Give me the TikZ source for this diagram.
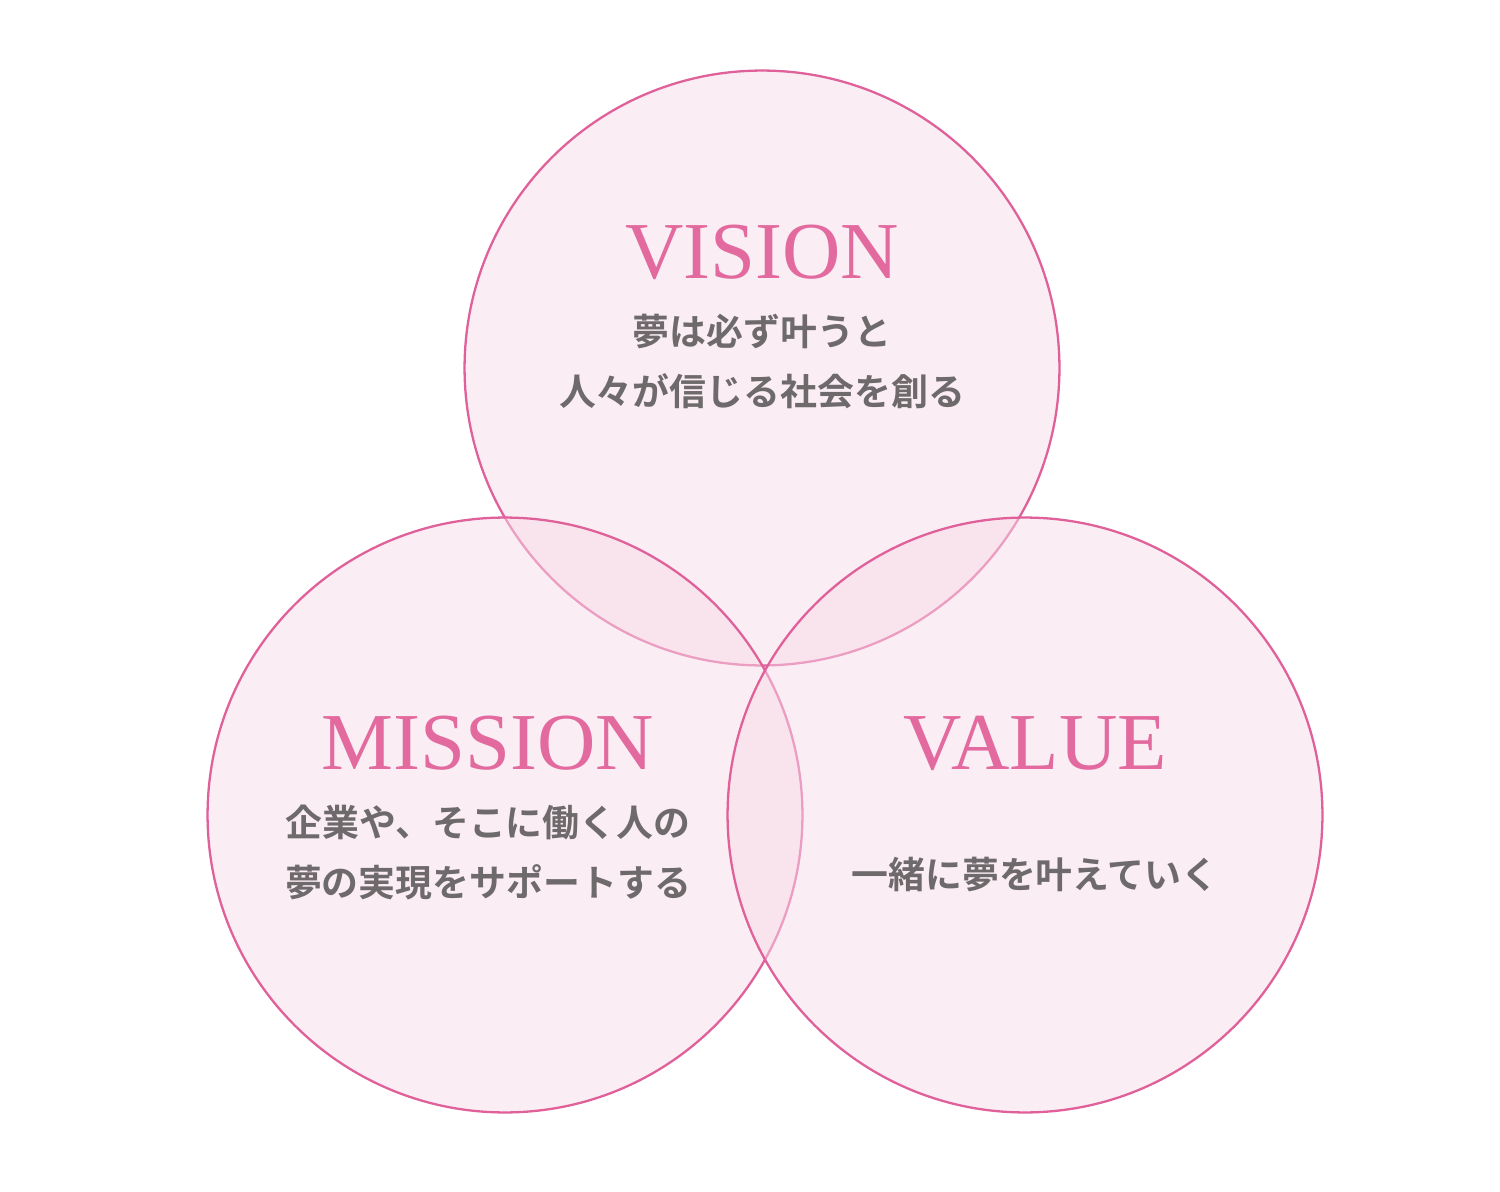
\documentclass[tikz,border=0pt]{standalone}
\usepackage{fontspec}
\setmainfont{Liberation Serif}
\newfontfamily\jpfont{Noto Sans CJK JP}[BoldFont={* Bold}]
\usepackage{tikz}
\usetikzlibrary{positioning}
\definecolor{ringline}{HTML}{E0609A}
\definecolor{ringfill}{HTML}{F8DDEA}
\definecolor{titlepink}{HTML}{E26A9E}
\definecolor{textgray}{HTML}{6E6A6C}
\tikzstyle{ring}  = [draw=ringline, line width=1.3pt, fill=ringfill, fill opacity=0.5]
\tikzstyle{title} = [text=titlepink, font=\fontsize{46}{50}\selectfont]
\tikzstyle{body}  = [text=textgray, align=center, font=\jpfont\bfseries\fontsize{21}{34}\selectfont]

\begin{document}
\begin{tikzpicture}[x=0.02cm, y=-0.02cm]
    \useasboundingbox (0,0) rectangle (1500,1192);
    \fill[white] (0,0) rectangle (1500,1192);

    \node (vision) [ring, circle, minimum size=11.9cm] at (762,368) {};
    \node (mission) [ring, circle, minimum size=11.9cm] at (505,815) {};
    \node (value) [ring, circle, minimum size=11.9cm] at (1025,815) {};

    \node (vt) [title] at (762,252) {VISION};
    \node (vb) [body, below=0.45cm of vt] {夢は必ず叶うと\\人々が信じる社会を創る};

    \node (mt) [title] at (488,743) {MISSION};
    \node (mb) [body, below=0.45cm of mt] {企業や、そこに働く人の\\夢の実現をサポートする};

    \node (at) [title] at (1035,743) {VALUE};
    \node (ab) [body] at (1035,875) {一緒に夢を叶えていく};
  \end{tikzpicture}
\end{document}
